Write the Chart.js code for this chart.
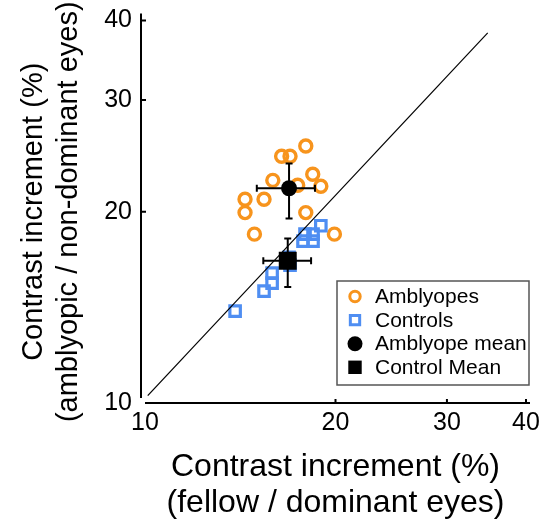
<!DOCTYPE html>
<html>
<head>
<meta charset="utf-8">
<script src="https://cdn.jsdelivr.net/npm/chart.js@4"></script>
<style>
  html, body { margin: 0; padding: 0; background: #fff; }
</style>
</head>
<body>
<canvas id="chart" width="555" height="523"></canvas>
<script>
// Contrast increment (%) — fellow/dominant eye (x) vs amblyopic/non-dominant eye (y)
const amblyopeX = [17.95, 16.44, 16.95, 15.92, 18.41, 18.96, 17.43, 14.39, 15.42, 14.39, 17.95, 14.89, 19.92];
const amblyopeY = [25.38, 24.45, 24.45, 22.41, 22.91, 21.94, 22.02, 20.93, 20.93, 19.94, 19.94, 18.44, 18.44];

const controlX = [13.88, 15.42, 15.88, 15.88, 16.89, 16.95, 17.77, 18.43, 18.43, 17.9, 18.96];
const controlY = [13.95, 15.0, 15.44, 16.01, 16.96, 16.48, 17.98, 17.98, 18.44, 18.44, 19.01];

// group means with error range [low, high]
const amblyopeMean = [16.89, 21.78];
const amblyopeMeanXRange = [15.02, 18.56];
const amblyopeMeanYRange = [19.51, 23.82];

const controlMean = [16.81, 16.74];
const controlMeanXRange = [15.38, 18.30];
const controlMeanYRange = [15.23, 18.15];

// reference diagonal (end points)
const diagonalX = [10.1, 34.8];
const diagonalY = [10.27, 38.25];

const tickValues = [10, 20, 30, 40];
const legendLabels = ['Amblyopes', 'Controls', 'Amblyope mean', 'Control Mean'];

const ORANGE = '#F7941D';
const BLUE = '#4F8EF2';
const FONT = "'Liberation Sans', Arial, Helvetica, sans-serif";

const toPoints = (xs, ys) => xs.map((x, i) => ({ x, y: ys[i] }));

/**
 * Draws the error bars of a mean marker just before the marker itself
 */
const errorBarPlugin = {
  id: 'errorBars',
  beforeDatasetDraw(chart, args) {
    const ds = chart.data.datasets[args.index];
    if (!ds.errorBars) return;
    const { x: sx, y: sy } = chart.scales;
    const { xRange, yRange } = ds.errorBars;
    const p = ds.data[0];
    const cx = sx.getPixelForValue(p.x);
    const cy = sy.getPixelForValue(p.y);
    const x0 = sx.getPixelForValue(xRange[0]);
    const x1 = sx.getPixelForValue(xRange[1]);
    const y0 = sy.getPixelForValue(yRange[0]);
    const y1 = sy.getPixelForValue(yRange[1]);
    const cap = 3.5;
    const ctx = chart.ctx;
    ctx.save();
    ctx.strokeStyle = '#000';
    ctx.lineWidth = 2;
    ctx.beginPath();
    ctx.moveTo(x0, cy); ctx.lineTo(x1, cy);
    ctx.moveTo(x0, cy - cap); ctx.lineTo(x0, cy + cap);
    ctx.moveTo(x1, cy - cap); ctx.lineTo(x1, cy + cap);
    ctx.moveTo(cx, y0); ctx.lineTo(cx, y1);
    ctx.moveTo(cx - cap, y0); ctx.lineTo(cx + cap, y0);
    ctx.moveTo(cx - cap, y1); ctx.lineTo(cx + cap, y1);
    ctx.stroke();
    ctx.restore();
  }
};

/**
 * Offset axis lines with inward ticks
 */
const axesPlugin = {
  id: 'offsetAxes',
  afterDatasetsDraw(chart) {
    const { ctx, chartArea: a, scales } = chart;
    const yLineX = a.left - 4;
    ctx.save();
    ctx.strokeStyle = '#000';
    ctx.lineWidth = 2;
    ctx.beginPath();
    ctx.moveTo(yLineX, a.top - 7);
    ctx.lineTo(yLineX, a.bottom - 5);
    ctx.moveTo(a.left, a.bottom);
    ctx.lineTo(a.right + 4, a.bottom);
    tickValues.slice(1).forEach(v => {
      const py = scales.y.getPixelForValue(v);
      ctx.moveTo(yLineX, py); ctx.lineTo(yLineX + 5, py);
      const px = scales.x.getPixelForValue(v);
      ctx.moveTo(px, a.bottom); ctx.lineTo(px, a.bottom - 4);
    });
    ctx.stroke();
    ctx.restore();
  }
};

/**
 * Boxed legend in the lower right of the plot area
 */
const legendPlugin = {
  id: 'boxLegend',
  afterDraw(chart) {
    const { ctx, chartArea: a } = chart;
    const box = { left: a.left + 192, top: a.bottom - 122, width: 192, height: 104 };
    const markers = [
      { pointStyle: 'circle', radius: 5.2, borderWidth: 3, stroke: ORANGE, fill: null },
      { pointStyle: 'rect', radius: 6.6, borderWidth: 3, stroke: BLUE, fill: null },
      { pointStyle: 'circle', radius: 7.5, borderWidth: 0, stroke: null, fill: '#000' },
      { pointStyle: 'rect', radius: 9.5, borderWidth: 0, stroke: null, fill: '#000' }
    ];
    ctx.save();
    ctx.fillStyle = '#fff';
    ctx.fillRect(box.left, box.top, box.width, box.height);
    ctx.strokeStyle = '#555';
    ctx.lineWidth = 1.5;
    ctx.strokeRect(box.left, box.top, box.width, box.height);
    ctx.font = `21px ${FONT}`;
    ctx.textBaseline = 'middle';
    legendLabels.forEach((label, i) => {
      const y = box.top + 15.5 + i * 23.6;
      const m = markers[i];
      ctx.fillStyle = m.fill || 'rgba(0,0,0,0)';
      ctx.strokeStyle = m.stroke || 'rgba(0,0,0,0)';
      ctx.lineWidth = m.borderWidth;
      Chart.helpers.drawPoint(ctx, m, box.left + 18, y);
      ctx.fillStyle = '#000';
      ctx.fillText(label, box.left + 38, y + 1);
    });
    ctx.restore();
  }
};

const xTickFont = { family: FONT, size: 25 };
const yTickFont = { family: FONT, size: 25, lineHeight: 0.6 };

new Chart(document.getElementById('chart'), {
  type: 'scatter',
  data: {
    datasets: [
      {
        label: 'Amblyopes',
        data: toPoints(amblyopeX, amblyopeY),
        pointStyle: 'circle',
        pointRadius: 6,
        pointBorderWidth: 3.4,
        pointBorderColor: ORANGE,
        pointBackgroundColor: 'rgba(0,0,0,0)',
        order: 5
      },
      {
        label: 'Controls',
        data: toPoints(controlX, controlY),
        pointStyle: 'rect',
        pointRadius: 7.4,
        pointBorderWidth: 3.2,
        pointBorderColor: BLUE,
        pointBackgroundColor: 'rgba(0,0,0,0)',
        order: 4
      },
      {
        label: 'Unity',
        data: toPoints(diagonalX, diagonalY),
        showLine: true,
        borderColor: '#000',
        borderWidth: 1.2,
        pointRadius: 0,
        order: 3
      },
      {
        label: 'Amblyope mean',
        data: [{ x: amblyopeMean[0], y: amblyopeMean[1] }],
        errorBars: { xRange: amblyopeMeanXRange, yRange: amblyopeMeanYRange },
        pointStyle: 'circle',
        pointRadius: 8,
        pointBorderWidth: 0,
        pointBackgroundColor: '#000',
        order: 2
      },
      {
        label: 'Control Mean',
        data: [{ x: controlMean[0], y: controlMean[1] }],
        errorBars: { xRange: controlMeanXRange, yRange: controlMeanYRange },
        pointStyle: 'rect',
        pointRadius: 12.7,
        pointBorderWidth: 0,
        pointBackgroundColor: '#000',
        order: 1
      }
    ]
  },
  options: {
    responsive: false,
    animation: false,
    devicePixelRatio: 1,
    layout: { padding: { top: 20, right: 29, bottom: 0, left: 0 } },
    plugins: {
      legend: { display: false },
      tooltip: { enabled: false }
    },
    scales: {
      x: {
        type: 'logarithmic',
        min: 10,
        max: 40,
        afterBuildTicks: s => { s.ticks = tickValues.map(v => ({ value: v })); },
        afterFit: s => { s.height = 120; },
        grid: { display: false, drawTicks: false },
        border: { display: false },
        ticks: {
          callback: v => String(v),
          font: xTickFont,
          color: '#000',
          padding: 5,
          maxRotation: 0,
          autoSkip: false
        },
        title: {
          display: true,
          text: ['Contrast increment (%)', '(fellow / dominant eyes)'],
          font: { family: FONT, size: 32, lineHeight: 1.13 },
          color: '#000',
          padding: { top: 0, bottom: 1.5 }
        }
      },
      y: {
        type: 'logarithmic',
        min: 10,
        max: 40,
        afterBuildTicks: s => { s.ticks = tickValues.map(v => ({ value: v })); },
        afterFit: s => { s.width = 145; },
        grid: { display: false, drawTicks: false },
        border: { display: false },
        ticks: {
          callback: v => String(v),
          font: yTickFont,
          color: '#000',
          padding: 13,
          autoSkip: false
        },
        title: {
          display: true,
          text: ['Contrast increment (%)', '(amblyopic / non-dominant eyes)'],
          font: { family: FONT, size: 29, lineHeight: 1.2 },
          color: '#000',
          padding: { top: 17, bottom: 0 }
        }
      }
    }
  },
  plugins: [errorBarPlugin, axesPlugin, legendPlugin]
});
</script>
</body>
</html>
